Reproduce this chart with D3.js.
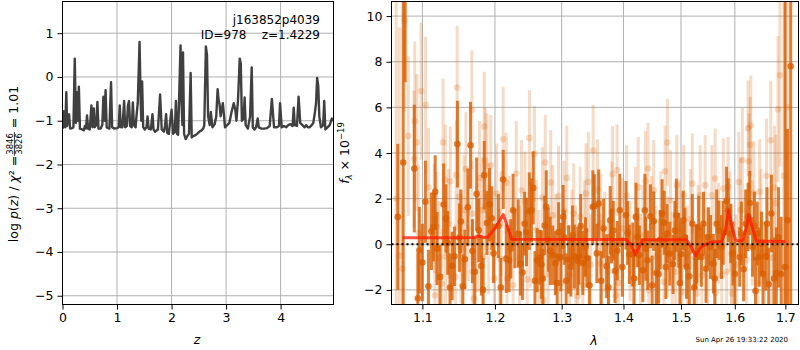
<!DOCTYPE html>
<html>
<head>
<meta charset="utf-8">
<script src="https://cdn.jsdelivr.net/npm/d3@7"></script>
<style>
body { margin: 0; background: white; }
text { font-family: 'DejaVu Sans', sans-serif; }
</style>
</head>
<body>
<div id="chart"></div>
<script>
// p(z) curve: [z, log p(z)]
var pzCurve = [
	[0.00,-1.18],[0.01,-1.15],[0.02,-0.78],[0.03,-1.12],[0.05,-1.15],[0.07,-0.35],[0.085,-1.12],[0.10,-0.88],
	[0.12,-0.85],[0.14,-1.18],[0.18,-1.17],[0.20,-1.15],[0.225,0.42],[0.245,-1.05],[0.26,-0.35],[0.28,-1.0],
	[0.30,-0.22],[0.32,-1.18],[0.36,-1.20],[0.39,-1.22],[0.41,-1.12],[0.43,-1.18],[0.45,-0.88],[0.47,-1.18],
	[0.50,-1.20],[0.53,-0.65],[0.55,-1.15],[0.575,-0.72],[0.59,-1.15],[0.62,-1.10],[0.64,-0.57],[0.66,-1.18],
	[0.70,-1.18],[0.73,-1.10],[0.75,-0.45],[0.77,-1.0],[0.79,-0.30],[0.81,-1.15],[0.86,-1.18],[0.89,-0.12],
	[0.91,-1.15],[0.95,-1.18],[1.00,-1.17],[1.03,-1.15],[1.05,-0.65],[1.07,-1.15],[1.10,-1.15],[1.13,-0.55],
	[1.15,-1.15],[1.18,-1.12],[1.20,-0.65],[1.22,-0.55],[1.24,-1.12],[1.27,-1.15],[1.29,-0.58],[1.31,-1.10],
	[1.34,-1.15],[1.36,-0.85],[1.38,-0.60],[1.413,0.80],[1.435,-0.60],[1.445,-1.0],[1.46,-0.10],[1.48,-1.15],
	[1.51,-1.20],[1.54,-1.15],[1.56,-0.90],[1.58,-1.18],[1.62,-1.20],[1.65,-0.85],[1.67,-1.20],[1.70,-1.25],
	[1.75,-1.20],[1.79,-0.40],[1.82,-1.20],[1.86,-1.25],[1.88,-1.12],[1.90,-0.85],[1.92,-1.28],[1.95,-1.30],
	[1.98,-0.95],[2.00,-0.75],[2.03,-1.30],[2.06,-1.25],[2.08,-0.55],[2.10,-1.30],[2.12,-1.32],[2.165,0.72],
	[2.18,-0.50],[2.20,-1.10],[2.21,0.56],[2.23,-1.30],[2.26,-1.42],[2.29,-1.35],[2.32,-1.30],[2.35,0.09],
	[2.37,-1.38],[2.40,-1.35],[2.44,-1.33],[2.47,-1.30],[2.51,-1.25],[2.55,-1.22],[2.58,-1.18],[2.60,-1.10],
	[2.63,0.70],[2.65,0.50],[2.67,-0.90],[2.70,-1.10],[2.72,-0.80],[2.75,-1.15],[2.79,-1.08],[2.82,-0.90],
	[2.845,-0.28],[2.865,-0.55],[2.88,-0.62],[2.90,-0.90],[2.94,-0.60],[2.96,-0.85],[2.98,-1.15],[3.02,-1.10],
	[3.06,-1.05],[3.10,-0.80],[3.14,-0.60],[3.17,-0.75],[3.19,-1.0],[3.22,-0.50],[3.25,0.42],[3.27,0.30],
	[3.29,-1.0],[3.32,-0.95],[3.34,-0.47],[3.36,-1.10],[3.40,-1.18],[3.44,-0.90],[3.47,0.22],[3.49,-1.15],
	[3.52,-1.20],[3.55,-1.15],[3.58,-0.95],[3.60,-1.15],[3.65,-1.18],[3.70,-1.18],[3.75,-1.17],[3.80,-1.12],
	[3.84,-0.50],[3.88,-1.15],[3.93,-1.15],[3.97,-1.12],[3.99,-0.60],[4.02,-1.15],[4.06,-1.12],[4.10,-1.15],
	[4.14,-1.10],[4.18,-1.08],[4.22,-1.12],[4.24,-0.70],[4.26,-1.10],[4.30,-1.12],[4.33,-0.45],[4.36,-1.05],
	[4.40,-1.10],[4.44,-1.15],[4.47,-1.10],[4.50,-1.15],[4.53,-1.15],[4.57,-1.10],[4.60,-1.05],[4.63,-0.80],
	[4.65,-0.60],[4.67,-0.02],[4.69,-0.20],[4.71,-0.90],[4.74,-1.15],[4.78,-1.10],[4.80,-0.55],[4.82,-1.20],
	[4.86,-1.15],[4.90,-1.10],[4.94,-0.95],[4.97,-1.0]
]

// spectrum, first grism set: [lambda (um), flux, err]
var darkPoints = [
	[1.068,1.2,3.2],[1.075,3.58,16],[1.0775,11.5,4.4],[1.0894,3.32,2.8],[1.094,-2.37,2.0],[1.096,-0.26,1.9],
	[1.100,-0.8,1.7],[1.104,1.86,1.8],[1.108,-1.84,1.6],[1.112,0.57,1.7],[1.115,0.75,1.5],[1.117,2.3,1.6],
	[1.1195,-0.19,1.6],[1.1236,-1.43,1.4],[1.1283,1.74,1.8],[1.1315,1.13,1.5],[1.134,0.06,1.4],[1.137,-1.9,1.5],
	[1.140,-0.95,1.5],[1.1431,-0.53,1.3],[1.1472,4.39,1.9],[1.150,0.29,1.5],[1.152,1.0,1.4],[1.1547,-1.84,1.4],
	[1.1575,-0.66,1.3],[1.1617,1.62,1.7],[1.1653,4.34,1.9],[1.168,-0.3,1.4],[1.1714,-1.21,1.5],[1.174,2.2,1.6],
	[1.177,0.61,1.4],[1.1806,-0.95,1.3],[1.183,-2.0,1.4],[1.1847,3.03,1.5],[1.1885,0.93,1.4],[1.1922,1.74,1.6],
	[1.1954,1.14,1.4],[1.198,-0.4,1.3],[1.205,0.8,1.4],[1.2085,-1.9,1.3],[1.212,2.84,1.3],[1.2164,-0.63,1.5],
	[1.2205,-0.70,1.4],[1.223,-0.2,1.3],[1.2264,1.49,1.6],[1.229,0.25,1.3],[1.234,0.47,1.5],[1.2374,-0.85,1.4],
	[1.2404,-1.24,1.2],[1.2435,0.9,1.4],[1.2463,0.54,1.5],[1.2504,1.45,1.7],[1.2538,1.49,1.4],[1.2564,2.47,1.6],
	[1.259,-1.6,1.3],[1.2623,-0.70,1.4],[1.2664,-0.57,1.2],[1.2688,-0.89,1.5],[1.271,-1.5,1.3],[1.2738,0.82,1.3],
	[1.2762,1.64,1.6],[1.279,0.2,1.4],[1.2822,-0.29,1.5],[1.2862,-0.48,1.3],[1.2903,-0.83,1.4],[1.293,-1.7,1.3],
	[1.2952,0.54,1.3],[1.2986,-0.56,1.5],[1.3023,1.20,1.4],[1.304,0.30,1.2],[1.307,-1.6,1.2],[1.3108,-0.67,1.5],
	[1.3145,-0.99,1.3],[1.317,0.4,1.3],[1.320,-0.54,1.4],[1.3253,-0.73,1.5],[1.3274,-0.57,1.2],[1.330,0.8,1.4],
	[1.3334,-0.82,1.4],[1.3377,-0.12,1.3],[1.340,-0.60,1.3],[1.344,-1.8,1.3],[1.3495,1.64,1.6],[1.352,1.67,1.4],
	[1.356,-0.4,1.3],[1.359,1.78,1.5],[1.363,-1.6,1.3],[1.367,0.69,1.3],[1.372,-0.96,1.4],[1.375,-1.9,1.4],
	[1.3779,1.05,1.5],[1.380,0.36,1.2],[1.383,0.6,1.3],[1.3859,-1.17,1.4],[1.3897,-0.28,1.3],[1.3939,1.49,1.6],
	[1.398,-1.0,1.3],[1.4042,1.27,1.5],[1.407,0.5,1.4],[1.410,-0.44,1.3],[1.4158,-0.45,1.4],[1.418,-1.5,1.3],
	[1.4212,1.20,1.5],[1.424,0.3,1.3],[1.427,-0.48,1.3],[1.4329,-1.14,1.4],[1.4365,1.49,1.6],[1.438,-0.2,1.4],
	[1.4412,-0.70,1.3],[1.446,1.23,1.4],[1.449,-1.8,1.3],[1.4517,1.01,1.3],[1.4565,-1.26,1.5],[1.460,-1.30,1.3],
	[1.463,0.2,1.3],[1.4664,1.35,1.5],[1.470,0.94,1.4],[1.473,-1.0,1.4],[1.4752,0.47,1.3],[1.4799,-0.41,1.4],
	[1.4857,-0.88,1.3],[1.489,0.6,1.3],[1.4917,1.27,1.6],[1.4958,0.17,1.2],[1.498,-1.7,1.3],[1.500,-0.43,1.4],
	[1.504,1.05,1.3],[1.507,0.3,1.3],[1.510,-0.99,1.4],[1.515,-1.4,1.4],[1.5205,0.90,1.3],[1.524,-1.9,1.3],
	[1.5269,-0.56,1.4],[1.5285,-0.41,1.3],[1.5322,0.72,1.4],[1.537,-0.56,1.3],[1.541,0.9,1.4],[1.5457,-1.07,1.5],
	[1.5501,0.32,1.3],[1.554,-0.12,1.4],[1.5594,-0.85,1.3],[1.562,-1.5,1.3],[1.5657,0.90,1.5],[1.570,0.62,1.3],
	[1.5747,-0.12,1.4],[1.578,0.5,1.4],[1.5842,1.90,1.5],[1.5873,1.49,1.4],[1.592,0.47,1.3],[1.5965,-0.41,1.4],
	[1.600,-1.3,1.4],[1.6093,-0.56,1.3],[1.6125,0.47,1.4],[1.617,-1.1,1.4],[1.621,0.9,1.5],[1.6257,1.20,1.5],
	[1.629,1.81,1.4],[1.6345,-0.12,1.3],[1.638,0.8,1.5],[1.6402,-2.05,1.5],[1.6435,0.47,1.4],[1.6475,-0.56,1.3],
	[1.652,0.03,1.4],[1.655,-1.3,1.5],[1.6606,-0.53,1.5],[1.663,0.9,1.6],[1.6665,-1.75,1.6],[1.6718,1.35,1.7],
	[1.677,-1.50,1.8],[1.6817,-1.26,2.0],[1.686,0.3,2.2],[1.6915,-1.30,2.5],[1.6995,-1.0,12],[1.7045,1.05,4.0],
	[1.711,7.8,14]
]

// spectrum, second grism set (drawn faint)
var lightPoints = [
	[1.066,2.0,12],[1.070,-0.5,10],[1.074,-1.07,3.0],[1.077,9.82,4.0],[1.0815,4.74,3.5],[1.089,3.74,3.0],
	[1.090,5.39,3.5],[1.0926,4.46,3.0],[1.095,0.5,3.0],[1.0983,6.71,3.0],[1.1042,6.10,3.0],[1.108,2.5,2.6],
	[1.1157,1.13,2.4],[1.1167,-2.24,2.2],[1.119,0.76,2.4],[1.122,-0.6,2.5],[1.126,-1.73,2.4],[1.1276,4.46,2.8],
	[1.1306,2.84,2.4],[1.131,-0.53,2.4],[1.135,0.9,2.4],[1.1375,2.76,2.4],[1.1444,-1.43,2.3],[1.1455,3.03,2.4],
	[1.1468,6.87,2.7],[1.1492,2.08,2.4],[1.152,-0.2,2.4],[1.1561,1.49,2.4],[1.159,3.3,2.5],[1.1621,0.69,2.3],
	[1.1672,5.90,2.6],[1.1676,1.35,2.3],[1.1685,-1.21,2.3],[1.170,-2.38,2.2],[1.175,0.3,2.4],[1.178,2.9,2.5],
	[1.1815,1.49,2.3],[1.1839,-0.56,2.3],[1.1847,5.16,2.4],[1.1861,3.68,2.3],[1.1885,3.43,2.3],[1.191,0.2,2.4],
	[1.194,3.46,2.2],[1.199,-1.5,2.3],[1.2025,2.22,2.2],[1.2066,-0.63,2.2],[1.209,0.9,2.3],[1.2119,4.60,2.3],
	[1.2164,2.69,2.2],[1.2175,-1.50,2.2],[1.221,0.7,2.3],[1.2264,-1.80,2.2],[1.231,3.1,2.3],[1.236,-0.6,2.3],
	[1.2388,2.37,2.2],[1.244,1.86,2.2],[1.2473,-1.54,2.2],[1.2507,4.65,2.1],[1.252,0.4,2.3],[1.2582,3.96,2.1],
	[1.2613,0.61,2.2],[1.265,-0.8,2.3],[1.2703,2.05,2.2],[1.2715,-2.46,2.2],[1.2746,3.58,2.1],[1.279,-1.3,2.2],
	[1.283,2.7,2.3],[1.2862,1.27,2.2],[1.291,0.0,2.2],[1.2952,2.11,2.2],[1.299,-1.7,2.2],[1.3039,1.46,2.2],
	[1.308,2.9,2.3],[1.3127,-1.36,2.2],[1.316,0.2,2.2],[1.3189,1.35,2.2],[1.322,-0.5,2.2],[1.3253,-2.28,2.2],
	[1.329,1.20,2.2],[1.3334,-1.80,2.2],[1.336,0.6,2.2],[1.3385,2.22,2.2],[1.3422,2.73,2.2],[1.346,-0.9,2.2],
	[1.350,4.11,2.0],[1.357,2.4,2.2],[1.3619,0.91,2.2],[1.3625,-0.85,2.2],[1.369,0.1,2.2],[1.375,-1.2,2.2],
	[1.3806,1.42,2.2],[1.3818,3.07,2.1],[1.3873,-2.24,2.2],[1.3894,3.25,2.0],[1.3917,-1.70,2.2],[1.398,0.7,2.2],
	[1.4053,2.15,2.2],[1.411,-0.3,2.2],[1.4168,-1.73,2.2],[1.420,1.20,2.2],[1.425,2.5,2.2],[1.4287,-0.85,2.2],
	[1.433,0.4,2.2],[1.4372,2.76,2.2],[1.4418,3.32,2.0],[1.4432,-2.02,2.2],[1.448,0.8,2.2],[1.4517,2.37,2.2],
	[1.4549,-0.53,2.2],[1.4607,-1.32,2.2],[1.464,1.0,2.2],[1.4695,-1.65,2.2],[1.4716,3.20,2.0],[1.4758,4.46,1.9],
	[1.476,-0.1,2.2],[1.4812,1.93,2.2],[1.484,-0.78,2.2],[1.490,-1.21,2.2],[1.4926,2.59,2.2],[1.497,0.6,2.2],
	[1.5019,-2.09,2.2],[1.505,2.15,2.2],[1.511,-0.5,2.2],[1.517,1.1,2.2],[1.5205,2.66,2.2],[1.5287,-2.16,2.2],
	[1.531,0.4,2.2],[1.5348,2.15,2.2],[1.538,-1.36,2.2],[1.5441,2.59,2.2],[1.549,-0.6,2.2],[1.5566,2.15,2.2],
	[1.5627,2.88,2.2],[1.5635,-2.14,2.2],[1.569,0.5,2.2],[1.5751,-1.36,2.2],[1.5781,2.44,2.2],[1.5844,-1.21,2.2],
	[1.5873,2.51,2.2],[1.591,1.0,2.2],[1.5936,-0.41,2.2],[1.5945,-2.16,2.2],[1.603,-0.9,2.2],[1.6075,2.73,2.2],
	[1.611,1.5,2.3],[1.6146,3.68,2.3],[1.6225,-0.70,2.2],[1.6257,5.08,2.1],[1.6271,3.64,2.1],[1.6297,4.36,2.1],
	[1.631,5.20,2.2],[1.634,0.5,2.3],[1.6371,2.22,2.3],[1.645,-1.70,2.3],[1.6483,2.30,2.3],[1.651,0.9,2.4],
	[1.6582,-1.58,2.4],[1.662,3.0,2.5],[1.6705,4.56,2.6],[1.674,-0.6,2.6],[1.678,2.49,2.7],[1.681,1.8,3.0],
	[1.685,5.92,3.2],[1.6889,7.41,4.0],[1.697,3.0,10],[1.705,6.0,12]
]

// best-fit model
var modelCurve = [
	[1.074,0.29],[1.10,0.29],[1.15,0.29],[1.17,0.30],[1.178,0.36],[1.184,0.30],[1.19,0.32],[1.20,0.70],
	[1.212,1.30],[1.218,0.80],[1.224,0.22],[1.30,0.21],[1.405,0.21],[1.412,0.0],[1.42,-0.45],[1.427,-0.10],
	[1.432,0.20],[1.51,0.20],[1.518,-0.10],[1.527,-0.50],[1.535,-0.15],[1.545,0.0],[1.555,0.10],[1.575,0.12],
	[1.582,0.60],[1.588,1.50],[1.594,0.80],[1.602,0.15],[1.615,0.15],[1.622,0.70],[1.627,1.30],[1.633,0.80],
	[1.642,0.13],[1.70,0.12]
]

var zTicks = [0,1,2,3,4]
var pzTicks = [-5,-4,-3,-2,-1,0,1]
var waveTicks = [1.1,1.2,1.3,1.4,1.5,1.6,1.7]
var fluxTicks = [-2,0,2,4,6,8,10]

var orange = '#d95f02'
var gridColor = '#b0b0b0'
var fs = 12.5

var svg = d3.select('#chart').append('svg')
	.attr('width',800)
	.attr('height',350)

function fmt(v) {
	return (v < 0 ? '\u2212' : '') + Math.abs(v)
}

function drawAxes(g, x, y, xt, yt, xf, yf) {
	var x0 = x.range()[0], x1 = x.range()[1]
	var y0 = y.range()[0], y1 = y.range()[1]
	g.selectAll('.vgrid').data(xt).enter().append('line')
		.attr('x1',function(d){return x(d)}).attr('x2',function(d){return x(d)})
		.attr('y1',y0).attr('y2',y1)
		.attr('stroke',gridColor).attr('stroke-width',1)
	g.selectAll('.hgrid').data(yt).enter().append('line')
		.attr('y1',function(d){return y(d)}).attr('y2',function(d){return y(d)})
		.attr('x1',x0).attr('x2',x1)
		.attr('stroke',gridColor).attr('stroke-width',1)
	var xa = g.append('g')
		.attr('transform','translate(0,'+y0+')')
		.call(d3.axisBottom(x).tickValues(xt).tickFormat(xf).tickSize(5).tickPadding(4))
	var ya = g.append('g')
		.attr('transform','translate('+x0+',0)')
		.call(d3.axisLeft(y).tickValues(yt).tickFormat(yf).tickSize(5).tickPadding(4))
	;[xa,ya].forEach(function(a){
		a.select('.domain').remove()
		a.selectAll('text').attr('font-size',fs+'px').attr('font-family','DejaVu Sans').attr('fill','black')
		a.selectAll('line').attr('stroke','black')
	})
}

function frame(g, x, y) {
	g.append('rect')
		.attr('x',x.range()[0]).attr('y',y.range()[1])
		.attr('width',x.range()[1]-x.range()[0])
		.attr('height',y.range()[0]-y.range()[1])
		.attr('fill','none').attr('stroke','black').attr('stroke-width',1)
}

// ---------- left panel: p(z) ----------
var xz = d3.scaleLinear().domain([0,4.97]).range([62.5,333.5])
var yp = d3.scaleLinear().domain([-5.2,1.725]).range([304.5,1.5])
var left = svg.append('g')
drawAxes(left, xz, yp, zTicks, pzTicks, function(d){return d}, fmt)

left.append('clipPath').attr('id','clipL').append('rect')
	.attr('x',62.5).attr('y',1.5).attr('width',271).attr('height',303)
left.append('path')
	.datum(pzCurve)
	.attr('clip-path','url(#clipL)')
	.attr('d',d3.line().x(function(d){return xz(d[0])}).y(function(d){return yp(d[1])}))
	.attr('fill','none')
	.attr('stroke','#404040')
	.attr('stroke-width',2.4)
	.attr('stroke-linejoin','round')
frame(left, xz, yp)

left.append('text')
	.attr('x',320).attr('y',24)
	.attr('text-anchor','end')
	.attr('font-size','12px')
	.text('j163852p4039')
left.append('text')
	.attr('x',320).attr('y',39)
	.attr('text-anchor','end')
	.attr('font-size','12px')
	.attr('xml:space','preserve')
	.style('white-space','pre')
	.text('ID=978    z=1.4229')

left.append('text')
	.attr('x',197).attr('y',344)
	.attr('text-anchor','middle')
	.attr('font-size',fs+'px')
	.attr('font-style','italic')
	.text('z')

// y label with stacked fraction
var yl = left.append('g').attr('transform','translate(18,164) rotate(-90)')
var t1 = yl.append('text').attr('font-size',fs+'px')
t1.append('tspan').text('log ')
t1.append('tspan').attr('font-style','italic').text('p')
t1.append('tspan').text('(')
t1.append('tspan').attr('font-style','italic').text('z')
t1.append('tspan').text(') / ')
t1.append('tspan').attr('font-style','italic').text('\u03c7')
t1.append('tspan').text('\u00b2 = ')
var num = yl.append('text').attr('font-size','8.5px').attr('text-anchor','middle').attr('y',-5.2).text('3846')
var den = yl.append('text').attr('font-size','8.5px').attr('text-anchor','middle').attr('y',3.8).text('3826')
var t2 = yl.append('text').attr('font-size',fs+'px').attr('xml:space','preserve').style('white-space','pre').text(' = 1.01')
var w1 = t1.node().getComputedTextLength()
var wf = Math.max(num.node().getComputedTextLength(), den.node().getComputedTextLength()) + 2
var w2 = t2.node().getComputedTextLength()
var st = -(w1+wf+w2)/2
t1.attr('x',st)
num.attr('x',st+w1+wf/2)
den.attr('x',st+w1+wf/2)
yl.append('line')
	.attr('x1',st+w1).attr('x2',st+w1+wf)
	.attr('y1',-3.6).attr('y2',-3.6)
	.attr('stroke','black').attr('stroke-width',0.8)
t2.attr('x',st+w1+wf)

// ---------- right panel: spectrum ----------
var xw = d3.scaleLog().domain([1.06,1.727]).range([391.5,798.5])
var yf = d3.scaleLinear().domain([-2.64,10.64]).range([304.5,1.5])
var right = svg.append('g')
drawAxes(right, xw, yf, waveTicks, fluxTicks, function(d){return d.toFixed(1)}, fmt)

right.append('clipPath').attr('id','clipR').append('rect')
	.attr('x',391.5).attr('y',1.5).attr('width',407).attr('height',303)
var data = right.append('g').attr('clip-path','url(#clipR)')

function drawPoints(pts, op) {
	var g = data.append('g')
	g.selectAll('line').data(pts).enter().append('line')
		.attr('x1',function(d){return xw(d[0])}).attr('x2',function(d){return xw(d[0])})
		.attr('y1',function(d){return yf(d[1]-d[2])}).attr('y2',function(d){return yf(d[1]+d[2])})
		.attr('stroke',orange).attr('stroke-width',3).attr('opacity',op)
	g.selectAll('circle').data(pts).enter().append('circle')
		.attr('cx',function(d){return xw(d[0])}).attr('cy',function(d){return yf(d[1])})
		.attr('r',3.3)
		.attr('fill',orange).attr('opacity',op)
}
drawPoints(lightPoints, 0.22)
drawPoints(darkPoints, 0.8)

data.append('path')
	.datum(modelCurve)
	.attr('d',d3.line().x(function(d){return xw(d[0])}).y(function(d){return yf(d[1])}))
	.attr('fill','none')
	.attr('stroke','#ff1a00')
	.attr('stroke-opacity',0.75)
	.attr('stroke-width',3)
	.attr('stroke-linejoin','round')

data.append('line')
	.attr('x1',391.5).attr('x2',798.5)
	.attr('y1',yf(0)).attr('y2',yf(0))
	.attr('stroke','black')
	.attr('stroke-width',2)
	.attr('stroke-dasharray','2,3')
frame(right, xw, yf)

right.append('text')
	.attr('x',594).attr('y',345)
	.attr('text-anchor','middle')
	.attr('font-size',fs+'px')
	.attr('font-style','italic')
	.text('\u03bb')

var yr = right.append('g').attr('transform','translate(349,153) rotate(-90)')
var fl = yr.append('text').attr('font-size',fs+'px').attr('text-anchor','middle')
fl.append('tspan').attr('font-style','italic').text('f')
fl.append('tspan').attr('font-style','italic').attr('font-size','8.5px').attr('dy',2.5).text('\u03bb')
fl.append('tspan').attr('dy',-2.5).text(' \u00d7 10')
fl.append('tspan').attr('font-size','8.5px').attr('dy',-5).text('\u221219')

svg.append('text')
	.attr('x',788).attr('y',342)
	.attr('text-anchor','end')
	.attr('font-size','7px')
	.text('Sun Apr 26 19:33:22 2020')
</script>
</body>
</html>
